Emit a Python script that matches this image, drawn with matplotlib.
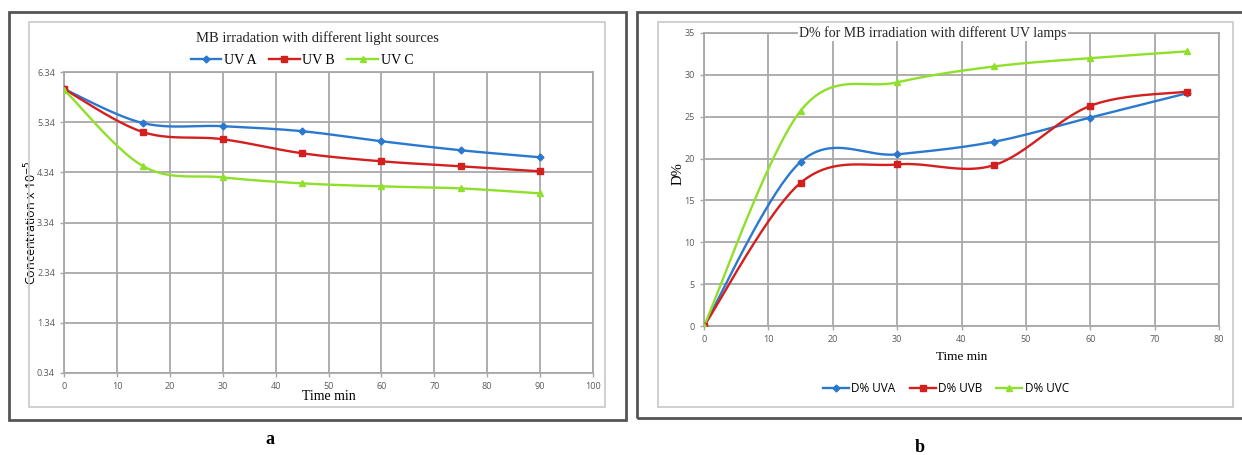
import numpy as np
import matplotlib
matplotlib.use("Agg")
import matplotlib.pyplot as plt
from matplotlib.patches import Rectangle
from matplotlib.lines import Line2D

# Panel a: MB concentration vs irradiation time
time_a = [0, 15, 30, 45, 60, 75, 90]
uv_a = [6.00, 5.32, 5.26, 5.16, 4.96, 4.78, 4.64]
uv_b = [6.00, 5.14, 5.00, 4.72, 4.56, 4.46, 4.36]
uv_c = [5.99, 4.46, 4.24, 4.12, 4.06, 4.02, 3.92]
yticks_a = [0.34, 1.34, 2.34, 3.34, 4.34, 5.34, 6.34]

# Panel b: degradation percentage
time_b = [0, 15, 30, 45, 60, 75]
d_uva = [0, 19.6, 20.5, 22.0, 24.9, 27.8]
d_uvb = [0, 17.1, 19.3, 19.2, 26.3, 28.0]
d_uvc = [0, 25.7, 29.1, 31.0, 32.0, 32.8]

BLUE = "#2b78cf"
RED = "#d41f1f"
GREEN = "#8fe02a"
GRID = "#a8a8a8"
TICK = "#595959"
W, H = 1242, 455


def smooth(xs, ys, n=40):
    """Bezier smoothing through the points, like a spreadsheet 'smoothed line'."""
    p = np.column_stack([xs, ys]).astype(float)
    p = np.vstack([p[0], p, p[-1]])
    out = []
    t = np.linspace(0, 1, n)[:, None]
    for i in range(len(xs) - 1):
        p0, p1, p2, p3 = p[i], p[i + 1], p[i + 2], p[i + 3]
        c1 = p1 + (p2 - p0) / 6
        c2 = p2 - (p3 - p1) / 6
        seg = ((1 - t) ** 3) * p1 + 3 * ((1 - t) ** 2) * t * c1 \
            + 3 * (1 - t) * t ** 2 * c2 + t ** 3 * p2
        out.append(seg if i == 0 else seg[1:])
    out = np.vstack(out)
    return out[:, 0], out[:, 1]


def series(ax, xs, ys, color, marker, ms, label):
    sx, sy = smooth(xs, ys)
    ax.plot(sx, sy, color=color, lw=1.7, zorder=3)
    ax.plot(xs, ys, ls="none", marker=marker, ms=ms, color=color,
            mec=color, zorder=4)
    return Line2D([], [], color=color, lw=1.7, marker=marker, ms=ms,
                  label=label)


def style(ax):
    ax.grid(True, color=GRID, lw=1.3)
    ax.set_axisbelow(True)
    for s in ax.spines.values():
        s.set_color(GRID)
        s.set_linewidth(1.3)
    ax.tick_params(colors=GRID, labelcolor=TICK, labelsize=6.5, length=3,
                   width=1)
    for lab in ax.get_xticklabels() + ax.get_yticklabels():
        lab.set_fontfamily("Open Sans")


def box(fig, x0, y0, x1, y1, color, lw):
    fig.patches.append(Rectangle((x0 / W, 1 - y1 / H), (x1 - x0) / W,
                                 (y1 - y0) / H, transform=fig.transFigure,
                                 fill=False, ec=color, lw=lw, zorder=0))


fig = plt.figure(figsize=(W / 100, H / 100), dpi=100)
plt.rcParams["font.family"] = "Liberation Serif"

# frames around both panels
box(fig, 9, 12, 626, 420, "#555555", 2)
box(fig, 29, 22, 605, 407, "#c8c8c8", 1.2)
box(fig, 637, 12, 1260, 418, "#555555", 2)
box(fig, 658, 22, 1233, 407, "#c8c8c8", 1.2)

# ---- panel a ----
ax1 = fig.add_axes([64 / W, 1 - 373 / H, 529 / W, 301 / H])
h1 = [series(ax1, time_a, uv_a, BLUE, "D", 3.5, "UV A"),
      series(ax1, time_a, uv_b, RED, "s", 5, "UV B"),
      series(ax1, time_a, uv_c, GREEN, "^", 4.5, "UV C")]
ax1.set_xlim(0, 100)
ax1.set_ylim(0.34, 6.34)
ax1.set_xticks(range(0, 101, 10))
ax1.set_yticks(yticks_a)
ax1.set_yticklabels([f"{v:.2f}" for v in yticks_a])
style(ax1)
ax1.set_xlabel("Time min", fontsize=10)
ax1.xaxis.set_label_coords(0.5, -0.058)
ax1.set_ylabel("Concentration x 10$^{-5}$", fontsize=9,
               fontfamily="Open Sans")
ax1.yaxis.set_label_coords(-0.047, 0.5)
fig.text(317 / W, 1 - 38 / H, "MB irradation with different light sources",
         ha="center", va="center", fontsize=10.5, color="#222222")
fig.legend(handles=h1, loc="center", bbox_to_anchor=(302 / W, 1 - 60 / H),
           ncol=3, frameon=False, fontsize=10, handlelength=2.2,
           handletextpad=0.2, columnspacing=0.9)
fig.text(270 / W, 1 - 440 / H, "a", ha="center", va="center",
         fontsize=13, fontweight="bold")

# ---- panel b ----
ax2 = fig.add_axes([704 / W, 1 - 326 / H, 515 / W, 293 / H])
h2 = [series(ax2, time_b, d_uva, BLUE, "D", 3.5, "D% UVA"),
      series(ax2, time_b, d_uvb, RED, "s", 5, "D% UVB"),
      series(ax2, time_b, d_uvc, GREEN, "^", 4.5, "D% UVC")]
ax2.set_xlim(0, 80)
ax2.set_ylim(0, 35)
ax2.set_xticks(range(0, 81, 10))
ax2.set_yticks(range(0, 36, 5))
style(ax2)
ax2.set_xlabel("Time min", fontsize=9.5)
ax2.xaxis.set_label_coords(0.5, -0.085)
ax2.set_ylabel("D%", fontsize=10.5)
ax2.yaxis.set_label_coords(-0.038, 0.52)
fig.text(933 / W, 1 - 33 / H, "D% for MB irradiation with different UV lamps",
         ha="center", va="center", fontsize=10, color="#222222", zorder=5,
         bbox=dict(fc="white", ec="none", pad=1))
leg2 = fig.legend(handles=h2, loc="center",
                  bbox_to_anchor=(946 / W, 1 - 389 / H), ncol=3,
                  frameon=False, fontsize=8.5, handlelength=2.2,
                  handletextpad=0.2, columnspacing=1.2)
for t in leg2.get_texts():
    t.set_fontfamily("Open Sans")
fig.text(920 / W, 1 - 447 / H, "b", ha="center", va="center",
         fontsize=13, fontweight="bold")

fig.savefig("out.png", dpi=100)
